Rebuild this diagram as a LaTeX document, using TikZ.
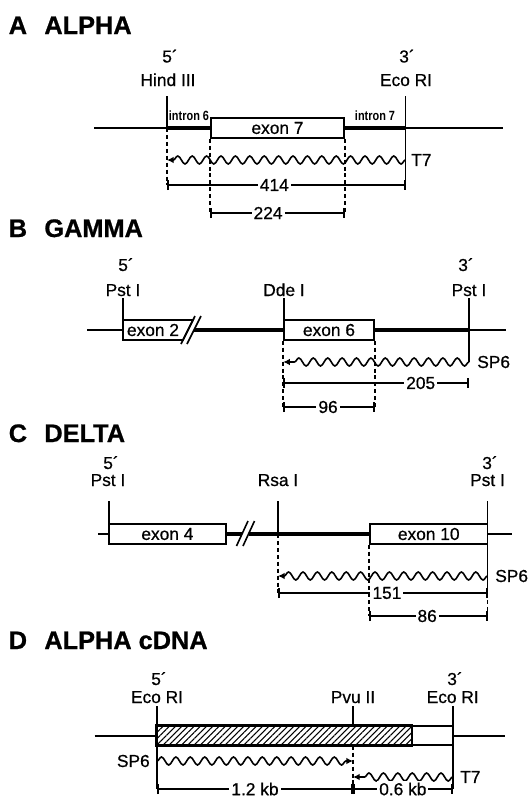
\documentclass[tikz,border=0pt]{standalone}
\usepackage{fontspec}
\setmainfont{Liberation Sans}
\newfontfamily\lblfont{Liberation Sans}[FakeBold=0.6]
\newfontfamily\titlefont{Liberation Sans Bold}[FakeBold=0.8]
\newfontfamily\narrowfont{Liberation Sans Bold}[FakeStretch=0.82]
\usepackage{tikz}
\usetikzlibrary{arrows.meta,decorations.pathmorphing,patterns.meta}
\tikzset{
  >={Latex[length=5pt,width=5pt]},
  dna/.style={line width=1.2pt},
  intron/.style={line width=3.2pt},
  site/.style={line width=1.2pt},
  cutline/.style={line width=1.2pt,dash pattern=on 3pt off 2.2pt},
  probe/.style={->,line width=1.2pt,decorate,
    decoration={snake,amplitude=3pt,segment length=10.8pt,post length=4.5pt}},
  span/.style={{Bar[width=7.5pt]}-{Bar[width=7.5pt]},line width=1.2pt},
  exon/.style={draw,fill=white,line width=1.2pt,minimum height=15pt,inner sep=0pt,
    font=\lblfont\fontsize{13}{13}\selectfont},
  exontext/.style={inner sep=0pt,font=\lblfont\fontsize{13}{13}\selectfont},
  lbl/.style={anchor=base,inner sep=0pt,font=\lblfont\fontsize{13}{13}\selectfont},
  primer/.style={anchor=west,inner sep=0pt,font=\lblfont\fontsize{13}{13}\selectfont},
  lenlbl/.style={fill=white,inner sep=1.5pt,font=\lblfont\fontsize{13}{13}\selectfont},
  intronlbl/.style={anchor=base,inner sep=0pt,font=\narrowfont\fontsize{10}{10}\selectfont},
  panel/.style={anchor=base west,inner sep=0pt,font=\titlefont\fontsize{19}{19}\selectfont}
}

\begin{document}
\begin{tikzpicture}[x=0.75pt,y=-0.75pt]
\useasboundingbox (0,0) rectangle (530,796);

\node[panel] (titleA) at (8.5,34) {A\hspace{13pt}ALPHA};
\coordinate (aHind) at (167,96);
\coordinate (aEco) at (405.5,96);
\coordinate (aDna) at (0,128);
\coordinate (aWave) at (0,160);
\coordinate (aDimA) at (0,185);
\coordinate (aDimB) at (0,213);
\node[lbl] (fiveA) at (170,62.5) {5´};
\node[lbl] (hindA) at (168,86) {Hind III};
\node[lbl] (threeA) at (407,62.5) {3´};
\node[lbl] (ecoA) at (406,86) {Eco RI};
\draw[dna] (94,128) -- (503,128);
\draw[intron] (aHind |- aDna) -- (aEco |- aDna);
\draw[site] (aHind) -- (aHind |- aDna);
\draw[cutline] (aHind |- aDna) -- (aHind |- aDimA);
\draw[site] (aEco) -- (aEco |- aDimA);
\node[exon,minimum width=99.75pt] (exonA) at (277.5,128) {exon 7};
\node[intronlbl] (intronA6) at (189,120) {intron 6};
\node[intronlbl] (intronA7) at (375,120) {intron 7};
\draw[cutline] (exonA.south west) -- (exonA.south west |- aDimB);
\draw[cutline] (exonA.south east) -- (exonA.south east |- aDimB);
\draw[probe] (aEco |- aWave) -- (aHind |- aWave);
\node[primer] (tA) at (411,160) {T7};
\draw[span] (aHind |- aDimA) -- node[lenlbl,pos=.45] {414} (aEco |- aDimA);
\draw[span] (exonA.south west |- aDimB) -- node[lenlbl,pos=.43] {224} (exonA.south east |- aDimB);

\node[panel] (titleB) at (8.5,237) {B\hspace{13pt}GAMMA};
\coordinate (bPst) at (123,298);
\coordinate (bDde) at (284,298);
\coordinate (bPstR) at (469,298);
\coordinate (bDna) at (0,330);
\coordinate (bWave) at (0,362);
\coordinate (bDimA) at (0,383);
\coordinate (bDimB) at (0,407);
\node[lbl] (fiveB) at (126,271) {5´};
\node[lbl] (pstB) at (123,296) {Pst I};
\node[lbl] (ddeB) at (284,296) {Dde I};
\node[lbl] (threeB) at (466,271) {3´};
\node[lbl] (pstRB) at (469,296) {Pst I};
\draw[dna] (87,330) -- (bPst |- bDna);
\draw[dna] (bPstR |- bDna) -- (506,330);
\draw[intron] (194,330) -- (bPstR |- bDna);
\draw[site] (bPst) -- (bPst |- bDna);
\draw[site] (bDde) -- (bDde |- bDna);
\draw[site] (bPstR) -- (bPstR |- bWave);
\draw[exon] (123,320) -- (193,320) -- (183,340) -- (123,340) -- cycle;
\node[exontext] (exonB2) at (153,330) {exon 2};
\draw[site] (181,344) -- (195,316);
\draw[site] (187,344) -- (201,316);
\node[exon,minimum width=67.5pt] (exonB) at (329,330) {exon 6};
\draw[cutline] (exonB.south west) -- (exonB.south west |- bDimB);
\draw[cutline] (exonB.south east) -- (exonB.south east |- bDimB);
\draw[probe] (bPstR |- bWave) -- (exonB.south west |- bWave);
\node[primer] (spB) at (477,362) {SP6};
\draw[span] (exonB.south west |- bDimA) -- node[lenlbl,pos=.74] {205} (bPstR |- bDimA);
\draw[span] (exonB.south west |- bDimB) -- node[lenlbl,pos=.49] {96} (exonB.south east |- bDimB);

\node[panel] (titleC) at (8.5,442) {C\hspace{13pt}DELTA};
\coordinate (cPst) at (109,501);
\coordinate (cRsa) at (278,501);
\coordinate (cPstR) at (487.5,501);
\coordinate (cDna) at (0,534);
\coordinate (cWave) at (0,576);
\coordinate (cDimA) at (0,593);
\coordinate (cDimB) at (0,616);
\node[lbl] (fiveC) at (111,469) {5´};
\node[lbl] (pstC) at (108,486) {Pst I};
\node[lbl] (rsaC) at (278,486) {Rsa I};
\node[lbl] (threeC) at (490,469) {3´};
\node[lbl] (pstRC) at (487.5,486) {Pst I};
\draw[dna] (98,534) -- (cPst |- cDna);
\draw[dna] (cPstR |- cDna) -- (512,534);
\draw[intron] (225.7,534) -- (242,534);
\draw[intron] (248.5,534) -- (370,534);
\draw[site] (236.5,546) -- (248,521);
\draw[site] (243,546) -- (254.5,521);
\draw[site] (cPst) -- (cPst |- cDna);
\draw[site] (cRsa) -- (cRsa |- cDna);
\draw[cutline] (cRsa |- cDna) -- (cRsa |- cDimA);
\draw[site] (cPstR) -- (cPstR |- cDimA);
\draw[cutline] (cPstR |- cDimA) -- (cPstR |- cDimB);
\node[exon,minimum width=87.5pt] (exonC4) at (167.4,534) {exon 4};
\node[exon,minimum width=88.1pt] (exonC10) at (428.75,534) {exon 10};
\draw[cutline] (exonC10.south west) -- (exonC10.south west |- cDimB);
\draw[probe] (cPstR |- cWave) -- (cRsa |- cWave);
\node[primer] (spC) at (495,576) {SP6};
\draw[span] (cRsa |- cDimA) -- node[lenlbl,pos=.52] {151} (cPstR |- cDimA);
\draw[span] (exonC10.south west |- cDimB) -- node[lenlbl,pos=.49] {86} (cPstR |- cDimB);

\node[panel] (titleD) at (8.5,649) {D\hspace{13pt}ALPHA cDNA};
\coordinate (dEco) at (157,706);
\coordinate (dPvu) at (353,706);
\coordinate (dEcoR) at (452.7,706);
\coordinate (dHatch) at (412,0);
\coordinate (dDna) at (0,736);
\coordinate (dSp) at (0,761);
\coordinate (dT) at (0,777);
\coordinate (dDim) at (0,789);
\node[lbl] (fiveD) at (159,685) {5´};
\node[lbl] (ecoD) at (157,703) {Eco RI};
\node[lbl] (pvuD) at (353,703) {Pvu II};
\node[lbl] (threeD) at (455,685) {3´};
\node[lbl] (ecoRD) at (452.7,703) {Eco RI};
\draw[dna] (94.6,736) -- (dEco |- dDna);
\draw[dna] (dEcoR |- dDna) -- (505,736);
\draw[site] (dEco) -- (dEco |- dDim);
\draw[site] (dEcoR) -- (dEcoR |- dDim);
\node[exon,minimum width=221.8pt,minimum height=14.25pt] (cdna) at (304.85,735.5) {};
\fill[pattern={Lines[angle=45,distance=3.3pt,line width=.8pt]}] (cdna.north west) rectangle (cdna.south -| dHatch);
\draw[line width=1.2pt] (cdna.north west) rectangle (cdna.south -| dHatch);
\draw[site] (dPvu) -- (cdna.north -| dPvu);
\draw[cutline] (cdna.south -| dPvu) -- (dPvu |- dDim);
\draw[probe] (dEco |- dSp) -- (dPvu |- dSp);
\draw[probe] (dEcoR |- dT) -- (dPvu |- dT);
\node[primer,anchor=east] (spD) at (150,761) {SP6};
\node[primer] (tD) at (460,777) {T7};
\draw[span] (dEco |- dDim) -- node[lenlbl] {1.2 kb} (dPvu |- dDim);
\draw[span] (dPvu |- dDim) -- node[lenlbl] {0.6 kb} (dEcoR |- dDim);
\end{tikzpicture}
\end{document}
